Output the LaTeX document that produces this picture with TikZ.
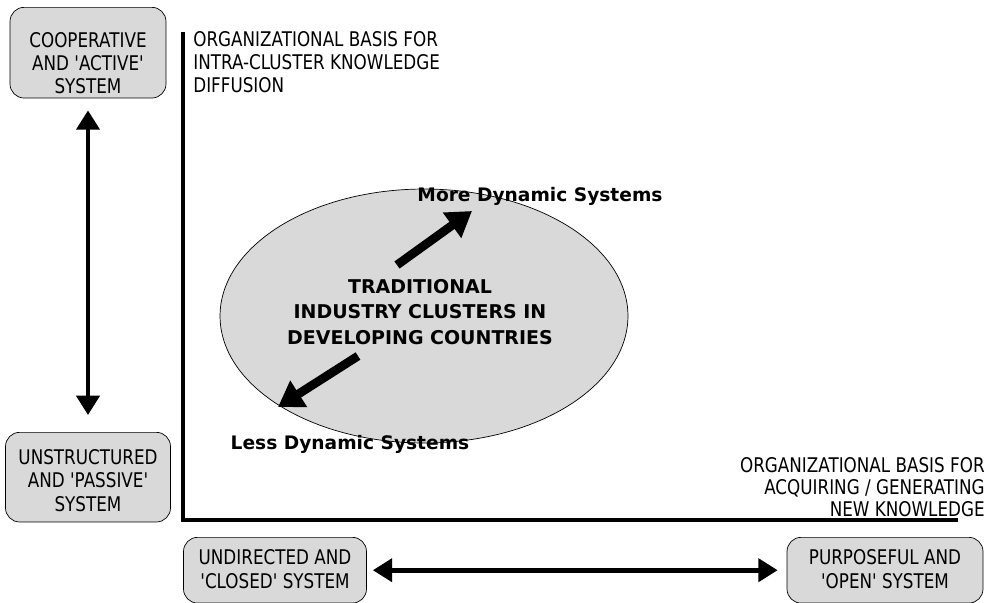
\documentclass[tikz,border=0pt]{standalone}
\usepackage{fontspec}
\setmainfont{DejaVu Sans}
\newfontfamily\narrowfont[FakeStretch=0.83]{DejaVu Sans}
\usetikzlibrary{arrows.meta,shapes}
\tikzstyle{sysbox}=[draw,thin,rounded corners=8pt,fill=black!15,align=center,inner sep=0pt,anchor=north,font=\narrowfont\fontsize{11.5}{13.3}\selectfont]
\tikzstyle{axislabel}=[inner sep=0pt,font=\narrowfont\fontsize{11.5}{12.6}\selectfont]
\tikzstyle{axis}=[line width=2.6pt]
\tikzstyle{bigarrow}=[line width=2.6pt,{Triangle[length=11pt,width=13pt]}-{Triangle[length=11pt,width=13pt]}]
\tikzstyle{dynarrow}=[line width=5pt,-{Triangle[length=14pt,width=17pt]}]
\tikzstyle{dynlabel}=[inner sep=0pt,font=\bfseries\fontsize{10.6}{13}\selectfont]

\begin{document}
\begin{tikzpicture}[x=0.02cm,y=-0.02cm]

    \useasboundingbox (0,0) rectangle (990,602);

    % the four system boxes
    \node[sysbox, minimum width=3.12cm, text height=49.3pt, text depth=2.3pt] (coop) at (88,7) {COOPERATIVE\\AND 'ACTIVE'\\SYSTEM};
    \node[sysbox, minimum width=3.30cm, text height=44.8pt, text depth=6.2pt] (passive) at (88,432) {UNSTRUCTURED\\AND 'PASSIVE'\\SYSTEM};
    \node[sysbox, minimum width=3.66cm, text height=28.9pt, text depth=8.5pt] (closed) at (275,537) {UNDIRECTED AND\\'CLOSED' SYSTEM};
    \node[sysbox, minimum width=3.92cm, text height=28.9pt, text depth=8.5pt] (open) at (885,537) {PURPOSEFUL AND\\'OPEN' SYSTEM};

    \draw[bigarrow, shorten <=0.24cm, shorten >=0.34cm] (coop) -- (passive);
    \draw[bigarrow, shorten <=0.12cm, shorten >=0.18cm] (closed.east) -- (open.west);

    % axes
    \coordinate (origin) at (183,520);
    \coordinate (ytop) at (183,32);
    \coordinate (xend) at (958,520);
    \draw[axis] (ytop) -- (origin) -- (xend);

    \node[axislabel, anchor=north west, align=left, font=\narrowfont\fontsize{11.5}{13}\selectfont] (ylabel) at (193,31) {ORGANIZATIONAL BASIS FOR\\INTRA-CLUSTER KNOWLEDGE\\DIFFUSION};
    \node[axislabel, anchor=south east, align=right] (xlabel) at (985,517) {ORGANIZATIONAL BASIS FOR\\ACQUIRING / GENERATING\\NEW KNOWLEDGE};

    % the cluster
    \node[ellipse, draw, thin, fill=black!15, minimum width=8.16cm, minimum height=5.08cm, inner sep=0pt] (cluster) at (424,316) {};
    \node[inner sep=0pt, align=center, font=\bfseries\fontsize{10.8}{14.7}\selectfont] (cltext) at (420,312) {TRADITIONAL\\INDUSTRY CLUSTERS IN\\DEVELOPING COUNTRIES};

    \coordinate (up0) at (397,265);
    \coordinate (up1) at (472,211);
    \coordinate (down0) at (358,356);
    \coordinate (down1) at (278,407);
    \draw[dynarrow] (up0) -- (up1);
    \draw[dynarrow] (down0) -- (down1);

    \node[dynlabel] (more) at (540,196) {More Dynamic Systems};
    \node[dynlabel] (less) at (350,444) {Less Dynamic Systems};

\end{tikzpicture}
\end{document}
